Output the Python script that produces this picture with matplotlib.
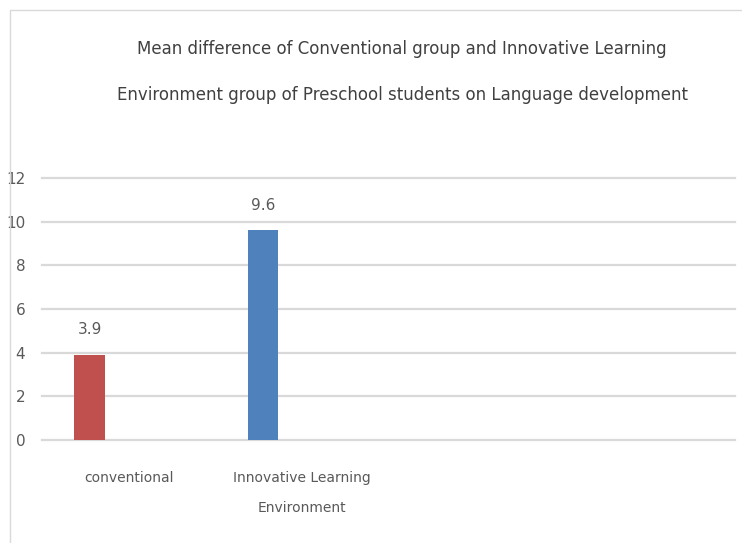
import numpy as np
import matplotlib.pyplot as plt
from matplotlib.patches import Rectangle

plt.rcParams['font.family'] = ['Liberation Sans Narrow', 'DejaVu Sans']

# data
categories = ['conventional', 'Innovative Learning\nEnvironment', '', '']
values = [3.9, 9.6, None, None]
bar_colors = ['#C0504D', '#4F81BD', None, None]
yticks = [0, 2, 4, 6, 8, 10, 12]
title = ('Mean difference of Conventional group and Innovative Learning\n'
         'Environment group of Preschool students on Language development')

fig = plt.figure(figsize=(7.42, 5.43), dpi=100)
# chart frame
fig.patches.append(Rectangle((10 / 742, -0.02), 1.1, 1 - 10 / 543 + 0.02,
                             transform=fig.transFigure, fill=False,
                             edgecolor='#d9d9d9', linewidth=1.0))

ax = fig.add_axes([42 / 742, 1 - 440 / 543, 693 / 742, (440 - 178) / 543])
x = np.arange(len(categories))
offset = -0.225
for i, (v, c) in enumerate(zip(values, bar_colors)):
    if v is None:
        continue
    ax.bar(x[i] + offset, v, width=0.175, color=c, zorder=3)
    ax.text(x[i] + offset, v + 0.8, f'{v}', ha='center', va='bottom',
            fontsize=11, color='#595959')

ax.set_xlim(-0.5, len(categories) - 0.5)
ax.set_ylim(0, 12)
ax.set_yticks(yticks)
ax.set_yticklabels([str(t) for t in yticks], fontsize=11, color='#595959')
ax.set_xticks(x)
ax.set_xticklabels(categories, fontsize=10, color='#595959', linespacing=2.5)
ax.tick_params(axis='both', length=0)
ax.tick_params(axis='y', pad=12)
ax.tick_params(axis='x', pad=22)
ax.grid(axis='y', color='#d9d9d9', linewidth=1.6, zorder=0)
for gl in ax.get_ygridlines():
    gl.set_clip_on(False)
for s in ax.spines.values():
    s.set_visible(False)

fig.text(0.542, 1 - 72 / 543, title, ha='center', va='center', fontsize=12,
         color='#404040', linespacing=3.0)

fig.savefig('out.png', dpi=100, facecolor='white')
